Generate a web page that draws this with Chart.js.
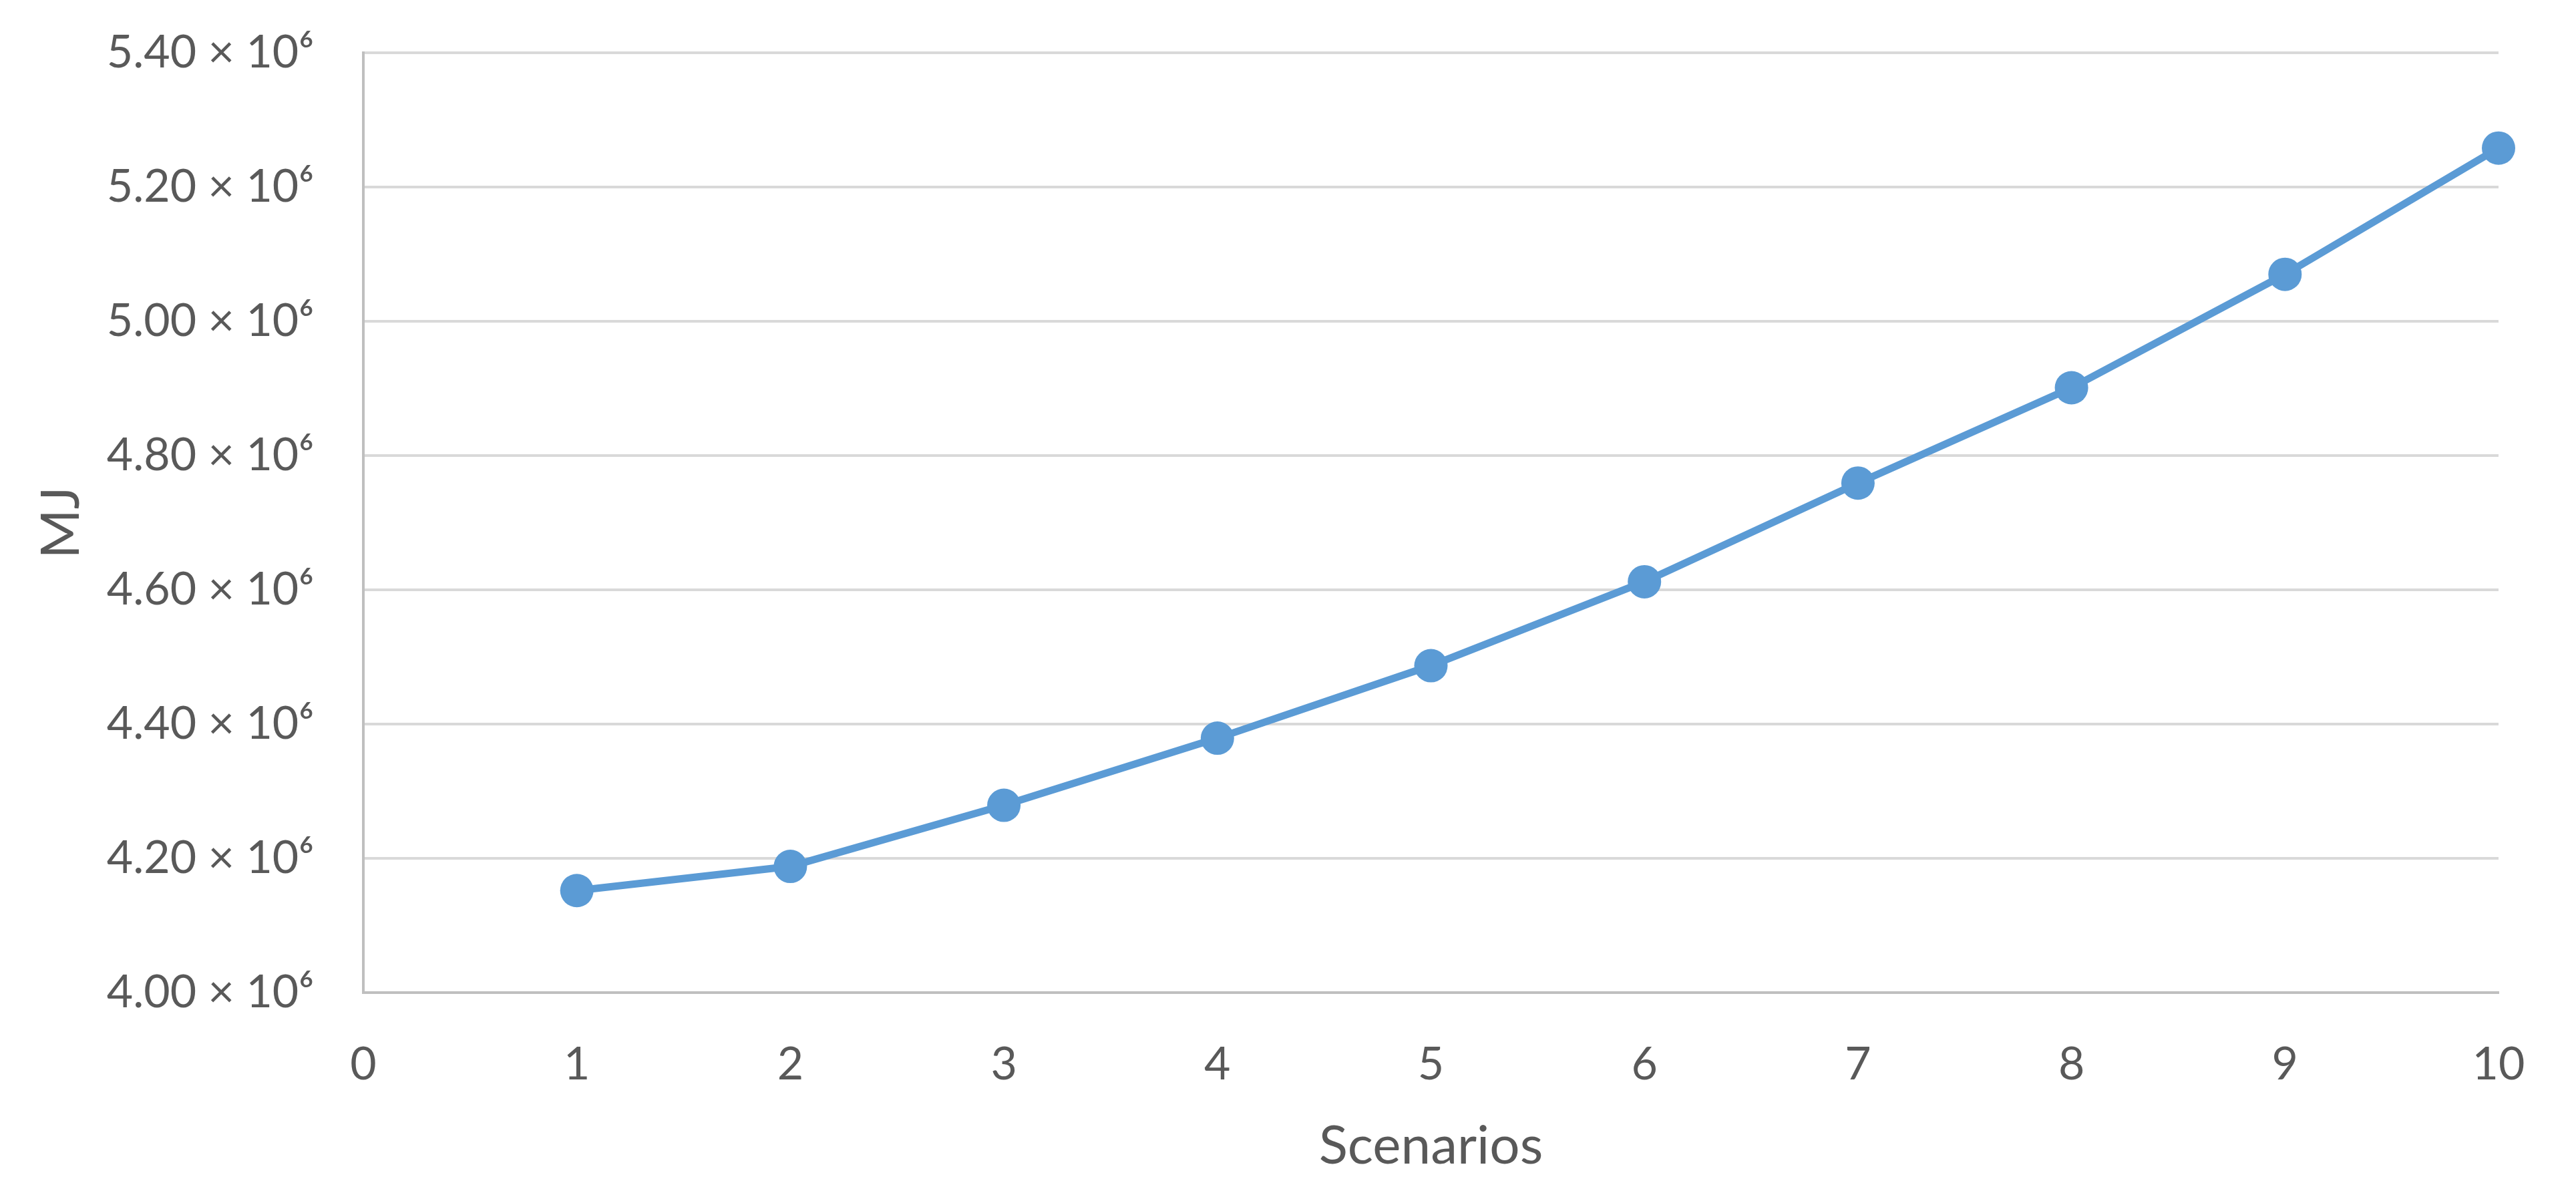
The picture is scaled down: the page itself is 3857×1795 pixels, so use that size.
<!DOCTYPE html>
<html>
<head>
<meta charset="utf-8">
<script src="https://cdn.jsdelivr.net/npm/chart.js@4.4.1/dist/chart.umd.min.js"></script>
<style>
  html, body { margin: 0; padding: 0; background: #ffffff; }
  #wrap { width: 3857px; height: 1795px; }
</style>
</head>
<body>
<div id="wrap"><canvas id="energyChart"></canvas></div>
<script>
// Data
var scenarios = [1, 2, 3, 4, 5, 6, 7, 8, 9, 10];
var energyMJ = [4152000, 4188000, 4279000, 4379000, 4487000, 4612000, 4759000, 4901000, 5070000, 5258000];
var yTicks = ["4.00", "4.20", "4.40", "4.60", "4.80", "5.00", "5.20", "5.40"];

var points = scenarios.map(function (s, i) {
    return { x: s, y: energyMJ[i] };
});

var textColor = "#595959";
var fontFamily = "Lato, 'Open Sans', sans-serif";

var ctx = document.getElementById("energyChart").getContext("2d");
var energyChart = new Chart(ctx, {
    type: "line",
    data: {
        datasets: [{
            label: "MJ",
            data: points,
            borderColor: "#5b9bd5",
            backgroundColor: "#5b9bd5",
            borderWidth: 11,
            pointRadius: 25,
            pointHoverRadius: 25,
            pointBorderWidth: 0,
            fill: false,
            tension: 0,
            clip: false
        }]
    },
    options: {
        responsive: true,
        maintainAspectRatio: false,
        devicePixelRatio: 1,
        animation: false,
        layout: {
            padding: { left: 0, right: 116, top: 79, bottom: 0 }
        },
        plugins: {
            legend: { display: false },
            tooltip: { enabled: false }
        },
        scales: {
            x: {
                type: "linear",
                min: 0,
                max: 10,
                ticks: {
                    stepSize: 1,
                    color: textColor,
                    font: { family: fontFamily, size: 68 },
                    padding: 67
                },
                grid: { display: false, drawTicks: false },
                border: { display: true, color: "#bfbfbf", width: 4 },
                title: {
                    display: true,
                    text: "Scenarios",
                    color: textColor,
                    font: { family: fontFamily, size: 80 },
                    padding: { top: 0, bottom: 31 }
                },
                afterFit: function (scale) { scale.height = 309; }
            },
            y: {
                min: 4000000,
                max: 5400000,
                ticks: {
                    stepSize: 200000,
                    color: textColor,
                    font: { family: fontFamily, size: 68 },
                    padding: 74,
                    callback: function (value) {
                        var idx = Math.round((value - 4000000) / 200000);
                        return yTicks[idx] + " \u00d7 10\u2076";
                    }
                },
                grid: { color: "#d9d9d9", lineWidth: 4, drawTicks: false },
                border: { display: true, color: "#bfbfbf", width: 4 },
                title: {
                    display: true,
                    text: "MJ",
                    color: textColor,
                    font: { family: fontFamily, size: 80 },
                    padding: { top: 44, bottom: 0 }
                },
                afterFit: function (scale) {
                    scale.width = 544;
                    // tick padding would otherwise push the plot top down
                    scale.paddingTop = 45;
                    scale.paddingBottom = 45;
                }
            }
        }
    }
});
</script>
</body>
</html>
